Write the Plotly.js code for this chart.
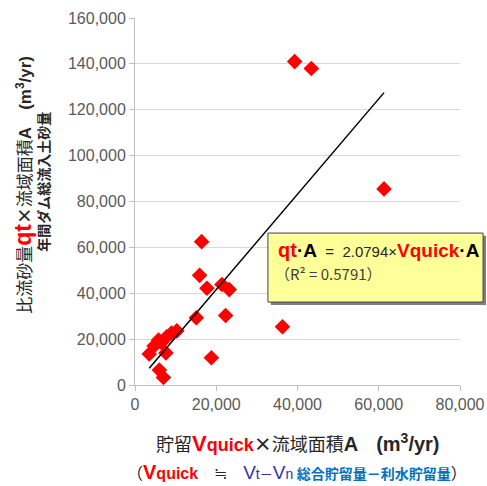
<!DOCTYPE html>
<html><head><meta charset="utf-8">
<script src="https://cdn.plot.ly/plotly-3.0.1.min.js"></script>
<style>body{margin:0;background:#fff}#c{width:487px;height:486px}</style>
</head><body><div id="c"></div>
<script>
// data
const vquickA = [39300, 43400, 61300, 16400, 15900, 17700, 21400, 23200, 22300, 15100, 36300, 18800,
                 3500, 4700, 5800, 7800, 9000, 10300, 7600, 6000, 7000, 6500];
const qtA     = [141000, 138000, 85500, 62500, 47800, 42200, 43800, 41600, 30300, 29300, 25400, 11900,
                 13500, 17000, 19600, 21000, 22700, 23600, 14000, 6500, 3300, 18500];
const slope = 2.0794;
const r2 = 0.5791;
const xTicks = [0, 20000, 40000, 60000, 80000];
const yTicks = [0, 20000, 40000, 60000, 80000, 100000, 120000, 140000, 160000];

const xmin = Math.min(...vquickA), xmax = Math.max(...vquickA);
const JP = '"Noto Sans CJK JP", "Liberation Sans", Arial, sans-serif';
const AR = '"Liberation Sans", Arial, sans-serif';

const traces = [
  {x: vquickA, y: qtA, type: 'scatter', mode: 'markers',
   marker: {symbol: 'diamond', size: 12, color: '#ff0000', line: {width: 0}}, showlegend: false},
  {x: [xmin, xmax], y: [slope * xmin, slope * xmax], type: 'scatter', mode: 'lines',
   line: {color: '#000000', width: 1.5}, showlegend: false}
];

const layout = {
  width: 487, height: 486,
  margin: {l: 135, r: 27, t: 17.5, b: 101},
  paper_bgcolor: '#fff', plot_bgcolor: '#fff',
  font: {family: AR, color: '#595959', size: 16},
  xaxis: {range: [0, 80000], tickvals: xTicks, tickformat: ',d', showgrid: false, zeroline: false,
          showline: true, linecolor: '#bfbfbf', linewidth: 1, ticks: 'outside', ticklen: 5, tickcolor: '#bfbfbf',
          tickfont: {family: AR, size: 16, color: '#595959'}},
  yaxis: {range: [0, 160000], tickvals: yTicks, tickformat: ',d', showgrid: true, gridcolor: '#d9d9d9', zeroline: false,
          showline: true, linecolor: '#bfbfbf', linewidth: 1, ticks: 'outside', ticklen: 5, tickcolor: '#bfbfbf',
          tickfont: {family: AR, size: 16, color: '#595959'}},
  shapes: [
    {type: 'rect', xref: 'paper', yref: 'paper', x0: 0.418, x1: 1.08, y0: 0.407, y1: 0.218,
     fillcolor: '#7f7f7f', line: {width: 0}, layer: 'above'},
    {type: 'rect', xref: 'paper', yref: 'paper', x0: 0.409, x1: 1.071, y0: 0.414, y1: 0.226,
     fillcolor: '#ffff99', line: {color: '#404040', width: 1}, layer: 'above'}
  ],
  annotations: [
    {xref: 'paper', yref: 'paper', x: 0.435, y: 0.367, xanchor: 'left', yanchor: 'middle', showarrow: false,
     font: {family: AR, size: 15, color: '#262626'},
     text: '<b><span style="color:#ff0000;font-size:20px">qt</span><span style="color:#000;font-size:19px">·A</span></b>  =  2.0794×<b><span style="color:#ff0000;font-size:19px">Vquick</span><span style="color:#000;font-size:19px">·A</span></b>'},
    {xref: 'paper', yref: 'paper', x: 0.425, y: 0.303, xanchor: 'left', yanchor: 'middle', showarrow: false,
     font: {family: JP, size: 15, color: '#404040'},
     text: '（R² = ' + r2 + '）'},
    {xref: 'paper', yref: 'paper', x: -0.345, y: 0.545, xanchor: 'center', yanchor: 'middle', showarrow: false,
     textangle: -90, font: {family: JP, size: 17, color: '#262626'},
     text: '比流砂量<b><span style="color:#ff0000;font-size:23px;font-family:Liberation Sans">qt</span></b><b>×</b>流域面積<b><span style="font-family:Liberation Sans">A</span></b>　<b><span style="font-family:Liberation Sans">(m<sup>3</sup>/yr)</span></b>'},
    {xref: 'paper', yref: 'paper', x: -0.282, y: 0.555, xanchor: 'center', yanchor: 'middle', showarrow: false,
     textangle: -90, font: {family: JP, size: 14, color: '#262626'},
     text: '<b>年間ダム総流入土砂量</b>'},
    {xref: 'paper', yref: 'paper', x: 0.502, y: -0.158, xanchor: 'center', yanchor: 'middle', showarrow: false,
     font: {family: JP, size: 18, color: '#262626'},
     text: '貯留<b><span style="color:#ff0000;font-family:Liberation Sans;font-size:22px">V</span><span style="color:#ff0000;font-family:Liberation Sans;font-size:18px">quick</span></b><b>×</b>流域面積<b><span style="font-family:Liberation Sans;font-size:20px">A</span></b>　<b><span style="font-family:Liberation Sans;font-size:20px">(m<sup>3</sup>/yr)</span></b>'},
    {xref: 'paper', yref: 'paper', x: 0.498, y: -0.238, xanchor: 'center', yanchor: 'middle', showarrow: false,
     borderpad: 0,
     font: {family: JP, size: 16, color: '#262626'},
     text: '（<b><span style="color:#ff0000;font-family:Liberation Sans;font-size:20px">V</span><span style="color:#ff0000;font-family:Liberation Sans;font-size:16px">quick</span></b>　≒　<span style="color:#3333aa;font-family:Liberation Sans;font-size:19px">V</span><span style="color:#3333aa;font-family:Liberation Sans;font-size:14px">t</span><span style="color:#3333aa;font-size:13px">－</span><span style="color:#3333aa;font-family:Liberation Sans;font-size:19px">V</span><span style="color:#3333aa;font-family:Liberation Sans;font-size:14px">n</span> <b><span style="color:#0070c0;font-size:14px">総合貯留量－利水貯留量</span></b>）'}
  ]
};
Plotly.newPlot('c', traces, layout, {displayModeBar: false, staticPlot: true});
</script>
</body></html>
